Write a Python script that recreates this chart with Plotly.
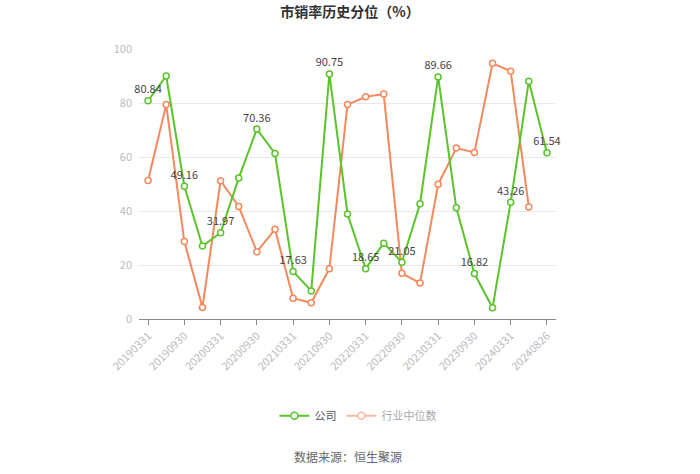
import plotly.graph_objects as go

dates = ["20190331", "20190630", "20190930", "20191231", "20200331", "20200630",
         "20200930", "20201231", "20210331", "20210630", "20210930", "20211231",
         "20220331", "20220630", "20220930", "20221231", "20230331", "20230630",
         "20230930", "20231231", "20240331", "20240630", "20240826"]
company = [80.84, 90.0, 49.16, 27.0, 31.97, 52.2, 70.36, 61.3, 17.63, 10.4, 90.75, 38.9,
           18.65, 28.1, 21.05, 42.7, 89.66, 41.2, 16.82, 4.2, 43.26, 88.1, 61.54]
industry = [51.3, 79.4, 28.7, 4.3, 51.2, 41.7, 24.9, 33.2, 7.7, 6.0, 18.6, 79.4,
            82.3, 83.3, 16.9, 13.3, 49.9, 63.3, 61.7, 94.7, 91.8, 41.5, None]
tick_labels = dates[::2]

GREEN = "#5ac42a"
ORANGE = "#f5885c"
ORANGE_LIGHT = "#f7b9a0"
FONT = "Noto Sans CJK SC, Noto Sans, sans-serif"

labels = [f"{v:.2f}" if i % 2 == 0 else "" for i, v in enumerate(company)]

fig = go.Figure()
fig.add_trace(go.Scatter(
    x=dates, y=industry, name="行业中位数", mode="lines+markers",
    line=dict(color=ORANGE, width=2),
    marker=dict(symbol="circle", size=6, color="white", line=dict(color=ORANGE, width=1.5)),
    connectgaps=False, showlegend=False,
))
fig.add_trace(go.Scatter(
    x=dates, y=company, name="公司", mode="lines+markers+text",
    line=dict(color=GREEN, width=2),
    marker=dict(symbol="circle", size=6, color="white", line=dict(color=GREEN, width=1.5)),
    text=labels, textposition="top center",
    textfont=dict(size=11, color="#444", family=FONT),
    cliponaxis=False, showlegend=False,
))
# legend entries
fig.add_trace(go.Scatter(
    x=[None], y=[None], name="<span style='color:#555'>公司</span>", mode="lines+markers",
    line=dict(color=GREEN, width=2),
    marker=dict(symbol="circle", size=7, color="white", line=dict(color=GREEN, width=1.5)),
))
fig.add_trace(go.Scatter(
    x=[None], y=[None], name="<span style='color:#aaa'>行业中位数</span>", mode="lines+markers",
    line=dict(color=ORANGE_LIGHT, width=2),
    marker=dict(symbol="circle", size=7, color="white", line=dict(color=ORANGE_LIGHT, width=1.5)),
))

fig.update_layout(
    width=700, height=474,
    margin=dict(l=139, r=144, t=49, b=155),
    paper_bgcolor="white", plot_bgcolor="white",
    font=dict(family=FONT, color="#666"),
    title=dict(text="<b>市销率历史分位（%）</b>", x=0.5, xanchor="center",
               y=1 - 12 / 474, yanchor="middle",
               font=dict(size=14, color="#333", family=FONT)),
    showlegend=True,
    legend=dict(orientation="h", x=0.525, xanchor="center", y=-0.358, yanchor="middle",
                font=dict(size=11, color="#999", family=FONT),
                itemwidth=30),
    xaxis=dict(type="category", range=[-0.5, 22.5], tickmode="array",
               tickvals=tick_labels, ticktext=tick_labels, tickangle=-45,
               ticks="outside", ticklen=5, tickcolor="#888",
               showline=True, linecolor="#888", linewidth=1,
               showgrid=False, tickfont=dict(size=11, color="#bbb", family=FONT)),
    yaxis=dict(range=[0, 100], tickvals=[0, 20, 40, 60, 80, 100],
               showgrid=True, gridcolor="#e8e8e8", zeroline=False,
               showline=False, tickfont=dict(size=11, color="#bbb", family=FONT),
               ticks="", ticklabelstandoff=6),
    annotations=[dict(text="数据来源：恒生聚源", xref="paper", yref="paper",
                      x=0.5, y=-0.509, xanchor="center", yanchor="middle",
                      showarrow=False, font=dict(size=12, color="#666", family=FONT))],
)

fig.write_html("out.html")
